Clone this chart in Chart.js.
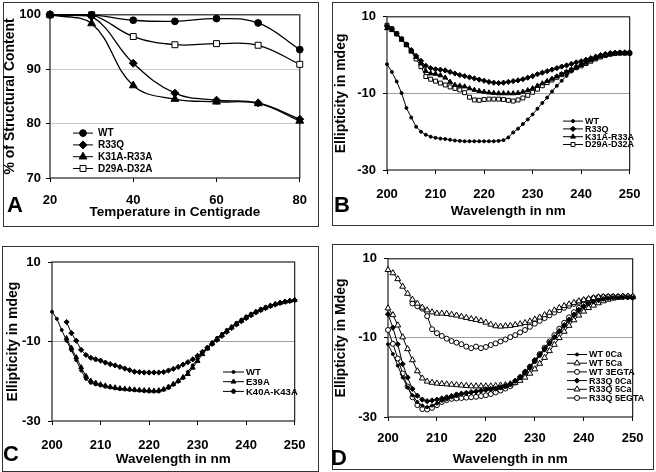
<!DOCTYPE html>
<html>
<head>
<meta charset="utf-8">
<script src="https://cdn.jsdelivr.net/npm/chart.js@4.4.1/dist/chart.umd.min.js"></script>
<style>
  body { margin: 0; background: #fff; width: 656px; height: 472px; position: relative; overflow: hidden; }
  .box { position: absolute; border: 1.5px solid #333; box-sizing: border-box; }
  canvas { position: absolute; }
  .letter { position: absolute; font: bold 22px "Liberation Sans", Arial, sans-serif; line-height: 1; color: #000; }
</style>
</head>
<body>
<div class="box" style="left:3px;top:2px;width:316px;height:225px"></div>
<div class="box" style="left:332px;top:2px;width:322px;height:224px"></div>
<div class="box" style="left:2px;top:246px;width:317px;height:226px"></div>
<div class="box" style="left:332px;top:244px;width:322px;height:226px"></div>

<canvas id="chartA" width="315" height="224" style="left:3px;top:2px"></canvas>
<canvas id="chartB" width="321" height="223" style="left:332px;top:2px"></canvas>
<canvas id="chartC" width="316" height="225" style="left:2px;top:246px"></canvas>
<canvas id="chartD" width="321" height="225" style="left:332px;top:244px"></canvas>

<div class="letter" style="left:7px;top:194px">A</div>
<div class="letter" style="left:334px;top:194px">B</div>
<div class="letter" style="left:3px;top:443px">C</div>
<div class="letter" style="left:331px;top:447px">D</div>

<script>
// Panel A: thermal unfolding
const tempC = [20, 30, 40, 50, 60, 70, 80];
const aWT = [100, 100, 99.0, 98.8, 99.3, 98.5, 93.6];
const aR33Q = [100, 99.7, 91.1, 85.6, 84.3, 83.8, 80.8];
const aK31A = [100, 98.4, 87.0, 84.5, 84.0, 83.7, 80.5];
const aD29A = [100, 100, 96.0, 94.5, 94.7, 94.4, 90.9];

// CD spectra, 200..250 nm
const wavelengths = [200, 201, 202, 203, 204, 205, 206, 207, 208, 209, 210, 211, 212, 213, 214, 215, 216, 217, 218, 219, 220, 221, 222, 223, 224, 225, 226, 227, 228, 229, 230, 231, 232, 233, 234, 235, 236, 237, 238, 239, 240, 241, 242, 243, 244, 245, 246, 247, 248, 249, 250];

// Panel B
const bWT = [-2.4, -4.4, -6.9, -9.9, -13.8, -16.3, -18.7, -20.0, -20.8, -21.3, -21.6, -21.8, -21.9, -22.1, -22.3, -22.4, -22.5, -22.5, -22.5, -22.5, -22.5, -22.5, -22.5, -22.4, -22.2, -21.5, -20.2, -19.2, -18.0, -16.8, -15.5, -14.0, -12.5, -11.1, -9.5, -8.0, -6.7, -5.4, -4.3, -3.3, -2.5, -1.8, -1.2, -0.6, -0.2, 0.1, 0.3, 0.4, 0.4, 0.4, 0.3];
const bR33Q = [7.6, 6.8, 5.6, 4.2, 2.8, 1.3, -0.2, -1.5, -2.8, -3.4, -3.7, -3.8, -4.0, -4.4, -4.8, -5.2, -5.5, -5.8, -6.1, -6.4, -6.7, -7.0, -7.2, -7.3, -7.2, -7.0, -6.8, -6.6, -6.3, -5.9, -5.5, -5.0, -4.6, -4.2, -3.8, -3.4, -3.0, -2.7, -2.3, -1.9, -1.6, -1.2, -0.8, -0.4, 0.0, 0.3, 0.5, 0.6, 0.7, 0.7, 0.7];
const bK31A = [7.0, 6.5, 5.4, 4.0, 2.6, 1.1, -0.5, -2.2, -4.2, -4.8, -4.9, -5.3, -5.9, -7.0, -7.8, -8.0, -8.2, -8.7, -9.1, -9.4, -9.6, -9.8, -9.9, -10.0, -10.0, -10.0, -10.0, -9.9, -9.6, -9.2, -8.7, -8.0, -7.4, -6.8, -6.2, -5.6, -5.0, -4.4, -3.8, -3.2, -2.6, -2.0, -1.4, -0.9, -0.4, 0.0, 0.3, 0.5, 0.6, 0.6, 0.6];
const bD29A = [7.8, 6.9, 5.6, 4.2, 2.7, 1.0, -1.0, -3.0, -5.6, -6.3, -6.8, -7.3, -7.8, -8.3, -8.7, -9.1, -9.8, -11.0, -11.7, -11.8, -11.6, -11.5, -11.5, -11.5, -11.6, -11.8, -12.0, -11.7, -11.2, -10.5, -9.7, -8.9, -8.0, -7.2, -6.5, -5.8, -5.1, -4.5, -3.9, -3.3, -2.8, -2.2, -1.6, -1.0, -0.5, -0.1, 0.2, 0.4, 0.5, 0.5, 0.5];

// Panel C
const cWT = [-2.5, -4.3, -7.1, -9.8, -12.2, -14.7, -17.3, -19.4, -20.4, -20.8, -21.1, -21.4, -21.6, -21.8, -22.0, -22.1, -22.2, -22.3, -22.4, -22.5, -22.6, -22.6, -22.6, -22.2, -21.7, -20.9, -20.1, -19.2, -17.6, -16.0, -14.4, -12.9, -11.5, -10.2, -9.1, -8.1, -7.1, -6.2, -5.3, -4.5, -3.7, -3.0, -2.4, -1.8, -1.3, -0.9, -0.5, -0.2, 0.1, 0.3, 0.4];
const cE39A = [null, null, null, -9.2, -11.6, -14.0, -16.5, -18.7, -19.9, -20.4, -20.8, -21.1, -21.4, -21.6, -21.8, -21.9, -22.0, -22.1, -22.2, -22.3, -22.3, -22.4, -22.3, -22.0, -21.4, -20.7, -19.9, -19.0, -18.2, -16.6, -14.9, -13.2, -11.8, -10.5, -9.4, -8.4, -7.4, -6.5, -5.6, -4.8, -4.0, -3.3, -2.6, -2.0, -1.5, -1.0, -0.6, -0.3, 0.0, 0.2, 0.4];
const cK40A = [null, null, null, -5.1, -7.9, -9.8, -12.1, -13.4, -14.1, -14.5, -14.8, -15.3, -15.7, -16.0, -16.4, -16.8, -17.2, -17.6, -17.7, -17.8, -17.8, -17.8, -17.8, -17.7, -17.3, -16.9, -16.4, -15.8, -15.2, -14.5, -13.6, -12.6, -11.6, -10.6, -9.6, -8.6, -7.6, -6.6, -5.7, -4.9, -4.1, -3.4, -2.7, -2.1, -1.6, -1.1, -0.7, -0.3, 0.0, 0.2, 0.4];

// Panel D
const dWT0Ca = [-11.6, -14.1, -17.0, -20.0, -22.5, -24.5, -26.2, -27.1, -27.5, -27.1, -26.6, -25.9, -25.5, -25.0, -24.7, -24.3, -24.1, -23.9, -23.7, -23.5, -23.3, -23.2, -23.0, -22.7, -22.4, -21.9, -21.0, -20.2, -18.9, -17.6, -16.0, -14.6, -13.1, -11.6, -10.0, -8.5, -7.0, -5.6, -4.3, -3.2, -2.2, -1.4, -0.7, -0.3, 0.0, 0.1, 0.2, 0.2, 0.3, 0.3, 0.2];
const dWT5Ca = [7.2, 6.4, 4.9, 3.0, 1.2, -0.3, -1.3, -2.3, -3.0, -3.5, -3.8, -3.8, -3.9, -4.1, -4.3, -4.6, -4.9, -5.2, -5.4, -5.7, -6.1, -6.6, -7.0, -7.1, -7.0, -6.9, -6.7, -6.5, -6.2, -5.8, -5.3, -4.8, -4.2, -3.6, -3.0, -2.4, -1.9, -1.5, -1.1, -0.7, -0.4, -0.1, 0.1, 0.3, 0.4, 0.4, 0.4, 0.4, 0.5, 0.5, 0.4];
const dWT3EGTA = [null, null, null, null, null, -1.3, -2.0, -2.6, -4.5, -7.8, -8.8, -9.5, -10.2, -10.8, -11.2, -11.6, -12.2, -12.6, -12.2, -12.6, -12.3, -11.8, -11.4, -10.9, -10.4, -9.8, -9.3, -8.6, -8.0, -7.2, -6.4, -5.7, -5.0, -4.3, -3.6, -3.0, -2.4, -1.9, -1.4, -0.9, -0.5, -0.2, 0.1, 0.3, 0.4, 0.4, 0.4, 0.4, 0.4, 0.4, 0.4];
const dR33Q0Ca = [-4.0, -7.4, -11.6, -16.6, -20.0, -22.9, -24.6, -25.6, -26.0, -25.8, -25.6, -25.3, -25.0, -24.7, -24.3, -24.1, -23.9, -23.7, -23.5, -23.3, -23.0, -22.9, -22.8, -22.5, -22.2, -21.6, -20.8, -19.8, -18.5, -17.2, -15.6, -14.2, -12.7, -11.2, -9.8, -8.3, -6.8, -5.4, -4.1, -2.9, -2.0, -1.3, -0.8, -0.4, -0.1, 0.1, 0.2, 0.3, 0.3, 0.3, 0.2];
const dR33Q5Ca = [-2.5, -4.2, -6.8, -9.8, -12.8, -15.6, -18.4, -20.2, -21.0, -21.3, -21.5, -21.6, -21.7, -21.8, -21.9, -22.0, -22.1, -22.2, -22.2, -22.2, -22.2, -22.2, -22.1, -22.0, -21.9, -21.7, -21.3, -20.8, -20.0, -19.0, -17.9, -16.5, -15.0, -13.3, -11.7, -10.0, -8.4, -6.9, -5.5, -4.3, -3.3, -2.4, -1.8, -1.2, -0.7, -0.3, 0.0, 0.2, 0.4, 0.5, 0.4];
const dR33Q5EGTA = [-8.0, -11.5, -15.2, -19.0, -22.3, -25.0, -27.0, -28.0, -28.1, -27.7, -27.0, -26.2, -25.7, -25.4, -25.3, -25.2, -25.1, -25.0, -24.9, -24.7, -24.5, -24.2, -23.8, -23.3, -22.8, -22.2, -21.3, -20.2, -18.9, -17.4, -15.8, -14.1, -12.5, -10.9, -9.3, -7.7, -6.2, -4.8, -3.5, -2.4, -1.5, -0.8, -0.3, 0.1, 0.3, 0.4, 0.4, 0.4, 0.4, 0.4, 0.3];

const FONT = '"Liberation Sans", Arial, sans-serif';
const NARROW = '"Liberation Sans Narrow", "Arial Narrow", "Liberation Sans", Arial, sans-serif';

function toPoints(xs, ys) {
  const pts = [];
  xs.forEach((x, i) => {
    if (ys[i] !== null) pts.push({ x: x, y: ys[i] });
  });
  return pts;
}

function series(label, xs, ys, style, radius, filled, extra) {
  return Object.assign({
    label: label,
    data: toPoints(xs, ys),
    borderColor: '#000',
    borderWidth: 1,
    pointStyle: style,
    pointRadius: radius,
    pointBackgroundColor: filled ? '#000' : '#fff',
    pointBorderColor: '#000',
    pointBorderWidth: 1,
    tension: 0,
    clip: false,
  }, extra || {});
}

// plot frame round the chart area
const frame = {
  id: 'frame',
  beforeDatasetsDraw(chart) {
    const a = chart.chartArea;
    const ctx = chart.ctx;
    ctx.save();
    ctx.strokeStyle = '#222';
    ctx.lineWidth = 1.2;
    ctx.strokeRect(a.left, a.top, a.right - a.left, a.bottom - a.top);
    ctx.restore();
  }
};

// legend drawn inside the plot: short line + marker + label
const inLegend = {
  id: 'inLegend',
  afterDraw(chart, args, opts) {
    const a = chart.chartArea;
    const ctx = chart.ctx;
    ctx.save();
    chart.data.datasets.forEach((ds, i) => {
      const y = a.top + opts.dy + i * opts.gap;
      const x0 = a.left + opts.x0;
      const x1 = a.left + opts.x1;
      ctx.strokeStyle = '#000';
      ctx.lineWidth = 1;
      ctx.beginPath();
      ctx.moveTo(x0, y);
      ctx.lineTo(x1, y);
      ctx.stroke();
      ctx.fillStyle = ds.pointBackgroundColor;
      ctx.strokeStyle = '#000';
      Chart.helpers.drawPoint(ctx, {
        pointStyle: ds.pointStyle,
        radius: ds.pointRadius,
        rotation: 0,
        borderWidth: 1
      }, (x0 + x1) / 2, y);
      ctx.fillStyle = '#000';
      ctx.font = opts.font;
      ctx.textBaseline = 'middle';
      ctx.textAlign = 'left';
      ctx.fillText(ds.label, a.left + opts.textX, y + 0.5);
    });
    ctx.restore();
  }
};

function makeChart(el, cfg) {
  new Chart(el, {
    type: 'line',
    data: { datasets: cfg.datasets },
    plugins: [frame, inLegend],
    options: {
      responsive: false,
      animation: false,
      events: [],
      layout: { padding: { top: cfg.padTop, right: cfg.padRight, left: 0, bottom: 0 } },
      scales: {
        x: {
          type: 'linear',
          min: cfg.xMin,
          max: cfg.xMax,
          afterFit: (s) => { s.height = cfg.xHeight; },
          border: { display: false },
          grid: { drawOnChartArea: false, tickLength: 4, tickColor: '#000' },
          ticks: {
            stepSize: cfg.xStep,
            padding: cfg.xTickPad,
            color: '#000',
            font: { family: FONT, size: 13, weight: 'bold' }
          },
          title: {
            display: true,
            text: cfg.xTitle,
            color: '#000',
            padding: { top: 0, bottom: cfg.xTitlePad },
            font: { family: FONT, size: 13.5, weight: 'bold' }
          }
        },
        y: {
          min: cfg.yMin,
          max: cfg.yMax,
          afterFit: (s) => { s.width = cfg.yWidth; },
          border: { display: false },
          grid: {
            tickLength: 4,
            tickColor: '#000',
            lineWidth: 1,
            color: (c) => (c.tick && c.tick.value > cfg.yMin && c.tick.value < cfg.yMax) ? cfg.gridColor : 'rgba(0,0,0,0)'
          },
          ticks: {
            stepSize: cfg.yStep,
            padding: cfg.yTickPad,
            color: '#000',
            font: { family: FONT, size: 13, weight: 'bold' }
          },
          title: {
            display: true,
            text: cfg.yTitle,
            color: '#000',
            padding: { top: cfg.yTitlePad, bottom: 0 },
            font: { family: FONT, size: 14, weight: 'bold', lineHeight: 1 }
          }
        }
      },
      plugins: {
        legend: { display: false },
        tooltip: { enabled: false },
        inLegend: cfg.legend
      }
    }
  });
}

const smooth = { tension: 0.4, borderWidth: 1.3 };

makeChart(document.getElementById('chartA'), {
  datasets: [
    series('WT', tempC, aWT, 'circle', 3.4, true, smooth),
    series('R33Q', tempC, aR33Q, 'rectRot', 4, true, smooth),
    series('K31A-R33A', tempC, aK31A, 'triangle', 4.5, true, smooth),
    series('D29A-D32A', tempC, aD29A, 'rect', 4.2, false, smooth),
  ],
  xMin: 20, xMax: 80, xStep: 20, yMin: 70, yMax: 100, yStep: 10,
  padTop: 12, padRight: 11, xHeight: 48, yWidth: 47,
  xTickPad: 11, xTitlePad: 6, yTickPad: 5, yTitlePad: 0,
  gridColor: '#c8c8c8',
  xTitle: 'Temperature in Centigrade',
  yTitle: '% of Structural Content',
  legend: { x0: 23, x1: 43, textX: 48, dy: 118.3, gap: 11.8, font: 'bold 10px ' + NARROW }
});

makeChart(document.getElementById('chartB'), {
  datasets: [
    series('WT', wavelengths, bWT, 'circle', 1.5, true),
    series('R33Q', wavelengths, bR33Q, 'rectRot', 2.6, true),
    series('K31A-R33A', wavelengths, bK31A, 'triangle', 2.8, true),
    series('D29A-D32A', wavelengths, bD29A, 'rect', 2.8, false),
  ],
  xMin: 200, xMax: 250, xStep: 10, yMin: -30, yMax: 10, yStep: 20,
  padTop: 12, padRight: 12, xHeight: 55, yWidth: 55,
  xTickPad: 12.5, xTitlePad: 6, yTickPad: 7, yTitlePad: 2,
  gridColor: '#a0a0a0',
  xTitle: 'Wavelength in nm',
  yTitle: 'Ellipticity in mdeg',
  legend: { x0: 176, x1: 196, textX: 198, dy: 104.3, gap: 7.8, font: 'bold 9px ' + NARROW }
});

makeChart(document.getElementById('chartC'), {
  datasets: [
    series('WT', wavelengths, cWT, 'circle', 1.5, true),
    series('E39A', wavelengths, cE39A, 'triangle', 2.8, true),
    series('K40A-K43A', wavelengths, cK40A, 'rectRot', 2.6, true),
  ],
  xMin: 200, xMax: 250, xStep: 10, yMin: -30, yMax: 10, yStep: 20,
  padTop: 16, padRight: 13, xHeight: 50, yWidth: 50,
  xTickPad: 12.5, xTitlePad: 4, yTickPad: 7.3, yTitlePad: 4,
  gridColor: '#a0a0a0',
  xTitle: 'Wavelength in nm',
  yTitle: 'Ellipticity in mdeg',
  legend: { x0: 171, x1: 192, textX: 194, dy: 110, gap: 9.7, font: 'bold 9.5px ' + NARROW }
});

makeChart(document.getElementById('chartD'), {
  datasets: [
    series('WT 0Ca', wavelengths, dWT0Ca, 'circle', 1.5, true),
    series('WT 5Ca', wavelengths, dWT5Ca, 'triangle', 3.4, false),
    series('WT 3EGTA', wavelengths, dWT3EGTA, 'circle', 2.5, false),
    series('R33Q 0Ca', wavelengths, dR33Q0Ca, 'rectRot', 2.6, true),
    series('R33Q 5Ca', wavelengths, dR33Q5Ca, 'triangle', 3.4, false),
    series('R33Q 5EGTA', wavelengths, dR33Q5EGTA, 'circle', 2.5, false),
  ],
  xMin: 200, xMax: 250, xStep: 10, yMin: -30, yMax: 10, yStep: 20,
  padTop: 13, padRight: 10, xHeight: 52, yWidth: 56,
  xTickPad: 9.5, xTitlePad: 2, yTickPad: 7, yTitlePad: 2,
  gridColor: '#a0a0a0',
  xTitle: 'Wavelength in nm',
  yTitle: 'Ellipticity in Mdeg',
  legend: { x0: 179, x1: 199, textX: 201, dy: 95.7, gap: 8.7, font: 'bold 9px ' + NARROW }
});
</script>
</body>
</html>
